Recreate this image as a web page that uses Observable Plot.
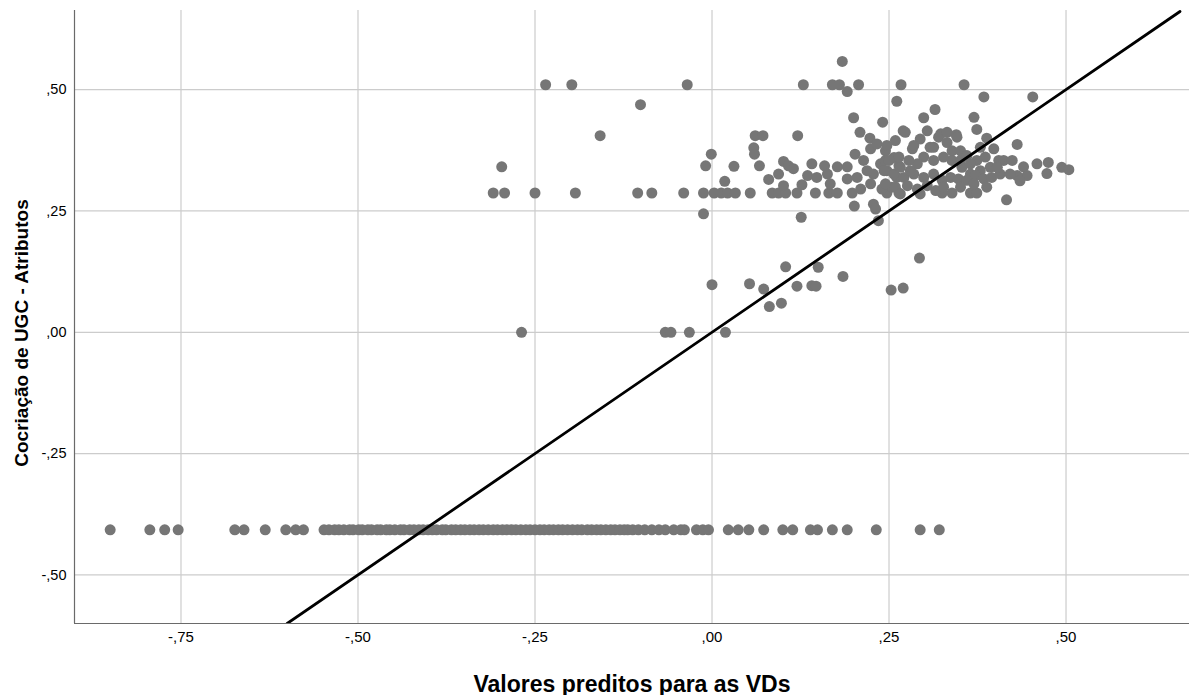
<!DOCTYPE html>
<html>
<head>
<meta charset="utf-8">
<script src="https://cdn.jsdelivr.net/npm/d3@7"></script>
<script src="https://cdn.jsdelivr.net/npm/@observablehq/plot@0.6"></script>
<style>
  html, body { margin: 0; padding: 0; background: #fff; }
  #chart svg { display: block; }
</style>
</head>
<body>
<div id="chart"></div>
<script>
// ---- Data ----
const xTitle = "Valores preditos para as VDs";
const yTitle = "Cocriação de UGC - Atributos";
const xTicks = [-0.75, -0.5, -0.25, 0, 0.25, 0.5];
const yTicks = [-0.5, -0.25, 0, 0.25, 0.5];

// horizontal rows of observations (constant observed value)
const bottomRowY = -0.407;
const bottomRowX = [-0.850, -0.794, -0.773, -0.754, -0.674, -0.661, -0.631, -0.602, -0.588, -0.577,
  -0.548, -0.541, -0.533, -0.527, -0.520, -0.512, -0.507, -0.499, -0.494, -0.486, -0.481, -0.473,
  -0.468, -0.460, -0.455, -0.448, -0.440, -0.435, -0.427, -0.421, -0.414, -0.408, -0.401, -0.395,
  -0.389, -0.381, -0.376, -0.368, -0.362, -0.355, -0.349, -0.342, -0.336, -0.329, -0.323, -0.316,
  -0.309, -0.303, -0.296, -0.290, -0.283, -0.277, -0.270, -0.263, -0.257, -0.250, -0.243, -0.237,
  -0.230, -0.224, -0.217, -0.211, -0.204, -0.197, -0.190, -0.184, -0.176, -0.170, -0.163, -0.157,
  -0.150, -0.143, -0.137, -0.130, -0.124, -0.119, -0.112, -0.104, -0.095, -0.085, -0.075, -0.066,
  -0.054, -0.044, -0.039, -0.022, -0.013, -0.005, 0.023, 0.037, 0.052, 0.073, 0.100, 0.114, 0.139,
  0.149, 0.170, 0.191, 0.232, 0.294, 0.321];

const topRowY = 0.510;
const topRowX = [-0.235, -0.198, -0.035, 0.129, 0.170, 0.180, 0.207, 0.267, 0.356];

const midRowY = 0.287;
const midRowX = [-0.309, -0.293, -0.250, -0.193, -0.105, -0.085, -0.040, -0.012, 0.003, 0.013,
  0.022, 0.033, 0.054, 0.085, 0.094, 0.104, 0.120, 0.146, 0.165, 0.177, 0.198, 0.264, 0.325,
  0.365, 0.374, 0.339, 0.247];

const zeroRowY = 0.0;
const zeroRowX = [-0.269, -0.066, -0.058, -0.032, 0.019];

// remaining scattered observations
const otherX = [-0.101, -0.158, -0.297, -0.001, -0.009, 0.031, 0.018, -0.012, 0.000,
  0.184, 0.191, 0.261, 0.200, 0.241, 0.209, 0.223, 0.061, 0.072, 0.121, 0.059, 0.060, 0.067,
  0.080, 0.094, 0.101, 0.108, 0.115, 0.141, 0.159, 0.177, 0.191, 0.135, 0.148, 0.163, 0.167,
  0.191, 0.101, 0.127, 0.201, 0.228, 0.231, 0.126, 0.235,
  0.202, 0.214, 0.224, 0.233, 0.245, 0.257, 0.238, 0.247, 0.228, 0.219, 0.205, 0.261, 0.254,
  0.240, 0.224, 0.210, 0.264, 0.245,
  0.384, 0.453, 0.315, 0.299, 0.370, 0.374, 0.270, 0.345, 0.323, 0.388, 0.431, 0.459, 0.475,
  0.494, 0.504, 0.473, 0.440, 0.445, 0.431, 0.435, 0.412, 0.416,
  0.247, 0.259, 0.273, 0.283, 0.294, 0.308, 0.320, 0.332, 0.339, 0.351, 0.360, 0.374, 0.386,
  0.398, 0.405, 0.393, 0.379, 0.365, 0.353, 0.339, 0.327, 0.313, 0.299, 0.290, 0.278, 0.264,
  0.250, 0.243, 0.257, 0.271, 0.285, 0.299, 0.313, 0.325, 0.337, 0.348, 0.360, 0.372, 0.384,
  0.395, 0.407, 0.245, 0.259, 0.276, 0.290, 0.304, 0.316, 0.327, 0.351, 0.370, 0.294, 0.266,
  0.285, 0.304, 0.332, 0.351, 0.313, 0.379, 0.280, 0.266, 0.346, 0.365, 0.388, 0.403, 0.421, 0.424,
  0.293, 0.253, 0.270, 0.185, 0.150, 0.104, 0.053, 0.073, 0.120, 0.141, 0.147, 0.081, 0.098];
const otherY = [0.469, 0.405, 0.341, 0.367, 0.343, 0.342, 0.311, 0.244, 0.098,
  0.558, 0.496, 0.476, 0.442, 0.433, 0.412, 0.400, 0.405, 0.405, 0.405, 0.380, 0.367, 0.343,
  0.315, 0.326, 0.352, 0.343, 0.337, 0.347, 0.343, 0.341, 0.341, 0.323, 0.319, 0.326, 0.306,
  0.316, 0.302, 0.304, 0.260, 0.264, 0.254, 0.237, 0.230,
  0.367, 0.354, 0.378, 0.388, 0.374, 0.360, 0.347, 0.333, 0.326, 0.333, 0.319, 0.319, 0.299,
  0.295, 0.306, 0.295, 0.343, 0.354,
  0.485, 0.485, 0.459, 0.442, 0.443, 0.418, 0.415, 0.407, 0.409, 0.400, 0.387, 0.347, 0.350,
  0.340, 0.335, 0.327, 0.341, 0.323, 0.323, 0.312, 0.354, 0.273,
  0.385, 0.395, 0.412, 0.378, 0.398, 0.381, 0.402, 0.391, 0.374, 0.374, 0.364, 0.354, 0.361,
  0.378, 0.354, 0.340, 0.333, 0.326, 0.340, 0.354, 0.361, 0.354, 0.361, 0.347, 0.354, 0.361,
  0.354, 0.333, 0.326, 0.319, 0.326, 0.319, 0.326, 0.313, 0.319, 0.316, 0.313, 0.323, 0.316,
  0.319, 0.326, 0.306, 0.299, 0.302, 0.295, 0.302, 0.292, 0.299, 0.299, 0.306, 0.285, 0.285,
  0.385, 0.415, 0.412, 0.354, 0.381, 0.381, 0.333, 0.340, 0.402, 0.347, 0.299, 0.340, 0.326, 0.354,
  0.153, 0.087, 0.091, 0.115, 0.134, 0.135, 0.100, 0.089, 0.095, 0.096, 0.095, 0.053, 0.060];

// reference (fit) line endpoints
const fitLineX = [-0.6, 0.661];
const fitLineY = [-0.6, 0.661];

// ---- Build tables ----
const points = [
  ...bottomRowX.map(x => ({x, y: bottomRowY})),
  ...topRowX.map(x => ({x, y: topRowY})),
  ...midRowX.map(x => ({x, y: midRowY})),
  ...zeroRowX.map(x => ({x, y: zeroRowY})),
  ...otherX.map((x, i) => ({x, y: otherY[i]}))
];
const fitLine = fitLineX.map((x, i) => ({x, y: fitLineY[i]}));

const fmt = d => (d < 0 ? "-" : "") + d3.format(".2f")(Math.abs(d)).replace(/^0\./, ",");

const xDomain = [-0.9004, 0.6744];
const yDomain = [-0.6, 0.663];

const chart = Plot.plot({
  width: 1189,
  height: 695,
  marginLeft: 74,
  marginRight: 0,
  marginTop: 10,
  marginBottom: 72,
  style: {fontFamily: "'Liberation Sans', Arial, sans-serif", fontSize: "15px", background: "#fff"},
  x: {domain: xDomain, axis: null},
  y: {domain: yDomain, axis: null},
  marks: [
    Plot.gridX(xTicks, {stroke: "#cccccc", strokeOpacity: 1, strokeWidth: 1.2}),
    Plot.gridY(yTicks, {stroke: "#cccccc", strokeOpacity: 1, strokeWidth: 1.2}),
    // tick labels drawn through the scales
    Plot.text(xTicks, {x: d => d, frameAnchor: "bottom", dy: 18, text: fmt, fontSize: 15, fill: "#000"}),
    Plot.text(yTicks, {y: d => d, frameAnchor: "left", dx: -8, textAnchor: "end", text: fmt, fontSize: 14.5, fill: "#000"}),
    Plot.ruleX([xDomain[0]], {stroke: "#6a6a6a", strokeWidth: 1.2}),
    Plot.ruleY([yDomain[0]], {stroke: "#6a6a6a", strokeWidth: 1.2}),
    Plot.dot(points, {x: "x", y: "y", r: 5.5, fill: "#767676", stroke: "none"}),
    Plot.line(fitLine, {x: "x", y: "y", stroke: "#000", strokeWidth: 2.8, clip: true}),
    Plot.text([xTitle], {frameAnchor: "bottom", dy: 68, lineAnchor: "bottom", fontSize: 23, fontWeight: "bold", fill: "#000"}),
    Plot.text([yTitle], {frameAnchor: "left", dx: -53, dy: 16, rotate: -90, textAnchor: "middle", fontSize: 19, fontWeight: "bold", fill: "#000"})
  ]
});
document.getElementById("chart").appendChild(chart);
</script>
</body>
</html>
